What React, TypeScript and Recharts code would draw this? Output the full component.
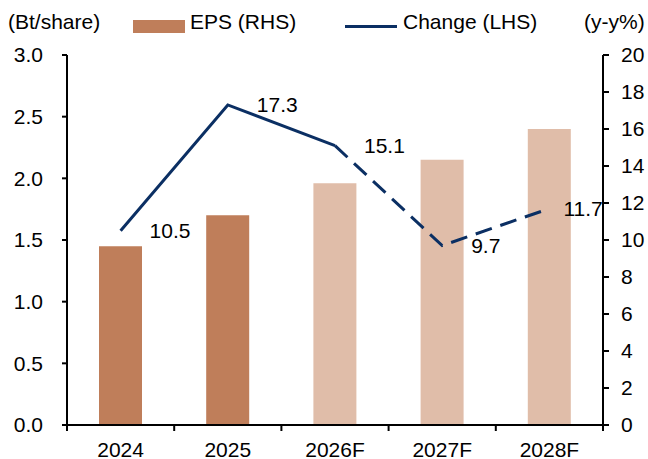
import { ComposedChart, Bar, Line, XAxis, YAxis, Cell, LabelList } from "recharts"

const years = ["2024", "2025", "2026F", "2027F", "2028F"]
const eps = [1.45, 1.7, 1.96, 2.15, 2.4]
const changePct = [10.5, 17.3, 15.1, 9.7, 11.7]
const firstForecast = 2

const leftTicks = [0, 0.5, 1, 1.5, 2, 2.5, 3]
const rightTicks = [0, 2, 4, 6, 8, 10, 12, 14, 16, 18, 20]

const W = 648
const H = 459
const LEFT_W = 67
const RIGHT_W = 45
const BAND = (W - LEFT_W - RIGHT_W) / years.length

const ACTUAL = "#BF7E5A"
const FORECAST = "#E0BDA9"
const NAVY = "#0B2F63"
const FONT = "'Liberation Sans', Arial, sans-serif"
const FS = 21

const data = years.map((year, i) => ({
  year,
  eps: eps[i],
  solid: i <= firstForecast ? changePct[i] : null,
  dashed: i >= firstForecast ? changePct[i] : null,
  label: changePct[i],
}))

function XTick(props: any) {
  const { x, y, payload, index } = props
  const last = index === years.length - 1
  return (
    <g>
      <line x1={x - BAND / 2} x2={x - BAND / 2} y1={y - 6} y2={y} stroke="#000" strokeWidth={2} />
      {last && <line x1={x + BAND / 2} x2={x + BAND / 2} y1={y - 6} y2={y} stroke="#000" strokeWidth={2} />}
      <text x={x} y={y + 18} textAnchor="middle" dominantBaseline="central" fontSize={FS} fontFamily={FONT} fill="#000">
        {payload.value}
      </text>
    </g>
  )
}

function PointLabel(props: any) {
  const { x, y, value, index } = props
  const dx = index === years.length - 1 ? 14 : 29
  return (
    <text x={x + dx} y={y} dominantBaseline="central" fontSize={FS} fontFamily={FONT} fill="#000">
      {value.toFixed(1)}
    </text>
  )
}

const textStyle = { position: "absolute" as const, fontSize: FS, fontFamily: FONT, color: "#000", lineHeight: 1 }

export default function App() {
  return (
    <div style={{ position: "absolute", left: 0, top: 0, width: W, height: H, background: "#fff" }}>
      <div style={{ ...textStyle, left: 8, top: 11 }}>(Bt/share)</div>
      <div style={{ position: "absolute", left: 133, top: 20, width: 52, height: 13, background: ACTUAL }} />
      <div style={{ ...textStyle, left: 190, top: 11 }}>EPS (RHS)</div>
      <div style={{ position: "absolute", left: 345, top: 25, width: 52, height: 3, background: NAVY }} />
      <div style={{ ...textStyle, left: 403, top: 11 }}>Change (LHS)</div>
      <div style={{ ...textStyle, left: 584, top: 11 }}>(y-y%)</div>
      <ComposedChart width={W} height={H} data={data} margin={{ top: 55, right: 0, bottom: 0, left: 0 }} barCategoryGap={0}>
        <XAxis
          dataKey="year"
          height={34}
          tickSize={6}
          tickMargin={0}
          tickLine={false}
          axisLine={{ stroke: "#000", strokeWidth: 2 }}
          tick={<XTick />}
          interval={0}
        />
        <YAxis
          yAxisId="left"
          width={LEFT_W}
          domain={[0, 3]}
          ticks={leftTicks}
          tickFormatter={(v: number) => v.toFixed(1)}
          tickSize={5}
          tickMargin={19}
          axisLine={{ stroke: "#000", strokeWidth: 2 }}
          tickLine={{ stroke: "#000", strokeWidth: 2 }}
          tick={{ fill: "#000", fontSize: FS, fontFamily: FONT }}
        />
        <YAxis
          yAxisId="right"
          orientation="right"
          width={RIGHT_W}
          domain={[0, 20]}
          ticks={rightTicks}
          tickSize={6}
          tickMargin={12}
          axisLine={{ stroke: "#000", strokeWidth: 2 }}
          tickLine={{ stroke: "#000", strokeWidth: 2 }}
          tick={{ fill: "#000", fontSize: FS, fontFamily: FONT }}
        />
        <Bar yAxisId="left" dataKey="eps" barSize={43} isAnimationActive={false}>
          {data.map((d, i) => (
            <Cell key={d.year} fill={i < firstForecast ? ACTUAL : FORECAST} />
          ))}
        </Bar>
        <Line yAxisId="right" dataKey="solid" stroke={NAVY} strokeWidth={3} dot={false} activeDot={false} connectNulls={false} isAnimationActive={false} />
        <Line yAxisId="right" dataKey="dashed" stroke={NAVY} strokeWidth={3} strokeDasharray="17 9" dot={false} activeDot={false} connectNulls={false} isAnimationActive={false} />
        <Line yAxisId="right" dataKey="label" stroke="none" dot={false} activeDot={false} isAnimationActive={false}>
          <LabelList dataKey="label" content={<PointLabel />} />
        </Line>
      </ComposedChart>
    </div>
  )
}
